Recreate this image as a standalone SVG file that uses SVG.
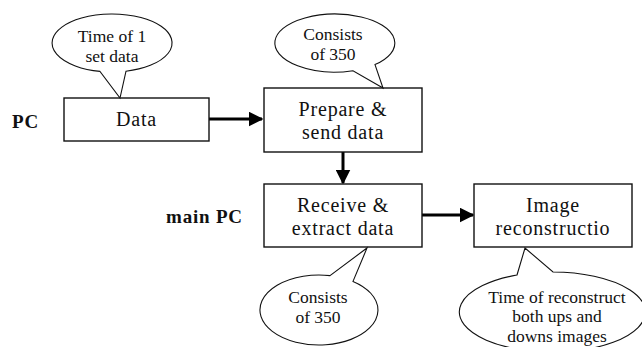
<svg xmlns="http://www.w3.org/2000/svg" width="642" height="347" viewBox="0 0 642 347">
<style>
.box{fill:#fff;stroke:#111;stroke-width:1.4}
.bub{fill:#fff;stroke:#111;stroke-width:1.1;stroke-linejoin:miter}
text{font-family:'Liberation Serif','Times New Roman',serif;fill:#111}
.t{font-size:20px;text-anchor:middle;letter-spacing:0.8px}
.c{font-size:17.5px;text-anchor:middle;letter-spacing:0px}
.lbl{font-size:19px;font-weight:bold;letter-spacing:0.8px}
.con{stroke:#000;stroke-width:3;fill:none}
</style>
<defs>
<marker id="ah" markerWidth="5" markerHeight="5" refX="4.5" refY="2.5" orient="auto" markerUnits="strokeWidth">
<path d="M0,0 L5,2.5 L0,5 Z" fill="#000"/>
</marker>
</defs>
<g id="labels">
<text class="lbl" x="12" y="128">PC</text>
<text class="lbl" x="166" y="223">main PC</text>
</g>
<g id="connectors">
<line class="con" x1="209" y1="119" x2="262" y2="119" marker-end="url(#ah)"/>
<line class="con" x1="343" y1="152" x2="343" y2="183" marker-end="url(#ah)"/>
<line class="con" x1="422" y1="215" x2="473" y2="215" marker-end="url(#ah)"/>
</g>
<g id="node-data">
<rect class="box" x="64" y="98" width="145" height="43"/>
<text class="t" x="136.5" y="126">Data</text>
</g>
<g id="node-prepare">
<rect class="box" x="264" y="88" width="158" height="64"/>
<text class="t" x="343" y="116">Prepare &amp;</text>
<text class="t" x="343" y="139">send data</text>
</g>
<g id="node-receive">
<rect class="box" x="264" y="184" width="158" height="63"/>
<text class="t" x="343" y="212">Receive &amp;</text>
<text class="t" x="343" y="235">extract data</text>
</g>
<g id="node-image">
<rect class="box" x="474" y="184" width="158" height="63"/>
<text class="t" x="553" y="212">Image</text>
<text class="t" x="553" y="235">reconstructio</text>
</g>
<g id="callout-time1">
<path class="bub" d="M100,71.4 A60,29 0 1,1 126,71.2 L120,98 Z"/>
<text class="c" x="112" y="42">Time of 1</text>
<text class="c" x="112" y="62">set data</text>
</g>
<g id="callout-consists-top">
<path class="bub" d="M353,70.7 A60,29 0 1,1 375,64.6 L383,88 Z"/>
<text class="c" x="333" y="40">Consists</text>
<text class="c" x="333" y="60">of 350</text>
</g>
<g id="callout-consists-bottom">
<path class="bub" d="M330,275.6 L367,248 L353,281.4 A59,35 0 1,1 330,275.6 Z"/>
<text class="c" x="318" y="303">Consists</text>
<text class="c" x="318" y="323">of 350</text>
</g>
<g id="callout-reconstruct">
<path class="bub" d="M517,275 L525,248 L553,272 A93,40 0 1,1 517,275 Z"/>
<text class="c" x="557" y="303">Time of reconstruct</text>
<text class="c" x="557" y="322">both ups and</text>
<text class="c" x="557" y="342">downs images</text>
</g>
</svg>
